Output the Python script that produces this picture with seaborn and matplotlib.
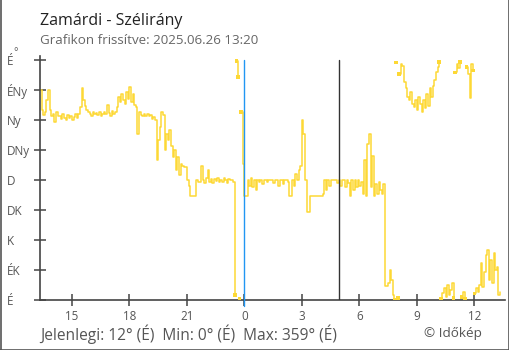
import numpy as np
import pandas as pd
import matplotlib
matplotlib.use("Agg")
import matplotlib.pyplot as plt
from matplotlib.lines import Line2D
import seaborn as sns

# Wind direction in degrees, 5-minute steps starting 2025-06-25 13:20 (one row per hour)
irany_fok = [
    315, 285, 278, 282, 300, 315, 285, 276, 280, 268, 282, 277,   # 13:20
    276, 272, 280, 274, 270, 278, 273, 277, 271, 275, 279, 273,   # 14:20
    280, 290, 318, 300, 292, 285, 282, 280, 277, 283, 279, 281,   # 15:20
    278, 282, 276, 280, 283, 279, 293, 281, 277, 284, 279, 282,   # 16:20
    290, 305, 298, 310, 300, 295, 312, 302, 320, 298, 310, 293,   # 17:20
    290, 250, 282, 278, 276, 280, 277, 279, 276, 278, 272, 275,   # 18:20
    270, 210, 240, 260, 282, 278, 225, 250, 240, 255, 232, 215,   # 19:20
    225, 195, 215, 188, 205, 201, 200, 200, 180, 172, 157, 157,   # 20:20
    157, 157, 180, 177, 178, 202, 180, 176, 183, 195, 178, 182,   # 21:20
    176, 182, 179, 184, 177, 181, 178, 183, 180, 176, 182, 180,   # 22:20
    180, 178, 8, 359, 335, 2, 283, 205, 157, 157, 180, 172,       # 23:20
    183, 170, 180, 165, 181, 178, 180, 175, 180, 180, 178, 180,   # 00:20
    180, 180, 176, 180, 180, 172, 180, 180, 175, 180, 180, 178,   # 01:20
    157, 157, 180, 172, 190, 180, 195, 202, 270, 250, 180, 132,   # 02:20
    132, 157, 157, 157, 157, 157, 157, 157, 157, 160, 180, 165,   # 03:20
    180, 172, 180, 180, 180, 180, 176, 180, 172, 180, 180, 170,   # 04:20
    180, 176, 157, 180, 165, 180, 170, 180, 172, 178, 160, 211,   # 05:20
    157, 234, 249, 170, 216, 157, 175, 160, 178, 165, 160, 174,   # 06:20
    21, 21, 25, 45, 30, 8, 0, 357, 3, 340, 355, 352,              # 07:20
    328, 318, 305, 300, 312, 295, 290, 300, 285, 305, 295, 283,   # 08:20
    300, 288, 310, 292, 318, 305, 322, 330, 342, 350, 358, 2,     # 09:20
    10, 18, 5, 22, 8, 15, 25, 3, 342, 355, 348, 358,              # 10:20
    5, 12, 2, 350, 340, 303, 355, 345, 10, 18, 12, 22,            # 11:20
    55, 20, 42, 67, 75, 30, 60, 25, 70, 45, 50, 7,                # 12:20
    12,                                                           # 13:20
]

kezdo_ora = 13 + 20 / 60          # 06.25 13:20, hours since 06.25 00:00
lepes_ora = 5 / 60
ejfel = 24.0                      # midnight marker
napkelte = 28 + 55 / 60           # 06.26 04:55

irany_fokok = [0, 45, 90, 135, 180, 225, 270, 315, 360]
irany_nevek = ["É", "ÉK", "K", "DK", "D", "DNy", "Ny", "ÉNy", "É"]
ora_tickek = [15, 18, 21, 24, 27, 30, 33, 36]
ora_cimkek = ["15", "18", "21", "0", "3", "6", "9", "12"]

SARGA = "#FDD835"
KEK = "#2196F3"
SOTET = "#444444"


def egtaj(fok):
    return irany_nevek[int(((fok % 360) + 22.5) // 45) % 8]


df = pd.DataFrame({"irany": irany_fok})
df["ora"] = kezdo_ora + df.index * lepes_ora
# break the line where the direction wraps around north
df["szakasz"] = (df["irany"].diff().abs() > 180).cumsum()

sns.set_style("white")
plt.rcParams["font.family"] = ["Open Sans", "DejaVu Sans"]

fig = plt.figure(figsize=(5.1, 3.5), dpi=100)
ax = fig.add_axes([40 / 510, 50 / 350, 465 / 510, 244.2 / 350])

sns.lineplot(data=df, x="ora", y="irany", units="szakasz", estimator=None,
             color=SARGA, lw=1.1, drawstyle="steps-post", ax=ax, legend=False)

# square caps on the ends of the wrapped pieces
sz = df["szakasz"]
eleje = (sz != sz.shift(1)) & (df.index > 0)
vege = (sz != sz.shift(-1)) & (df.index < len(df) - 1)
sns.scatterplot(data=df[eleje | vege], x="ora", y="irany", marker="s", s=7,
                color=SARGA, edgecolor="none", ax=ax, legend=False, zorder=3)

ax.axvline(ejfel, ymin=-6 / 244.2, ymax=360 / 367, color=KEK, lw=1.0,
           clip_on=False, zorder=4)
ax.axvline(napkelte, ymin=0, ymax=360 / 367, color="#333333", lw=1.0, zorder=4)

ax.set_xlim(kezdo_ora, 37.6)
ax.set_ylim(0, 367)
ax.set_yticks(irany_fokok, irany_nevek)
ax.set_xticks(ora_tickek, ora_cimkek)
ax.set_xlabel("")
ax.set_ylabel("")

for s in ["top", "right"]:
    ax.spines[s].set_visible(False)
for s in ["left", "bottom"]:
    ax.spines[s].set_color(SOTET)
    ax.spines[s].set_linewidth(1.2)

ax.tick_params(axis="y", left=True, direction="inout", length=9, width=1.1,
               color=SOTET, pad=19.3, labelsize=8.4, labelcolor="#555555")
ax.tick_params(axis="x", bottom=True, direction="inout", length=9, width=1.1,
               color=SOTET, pad=3, labelsize=8.4, labelcolor="#555555")
for lbl in ax.get_yticklabels():
    lbl.set_horizontalalignment("left")

fig.text(13.5 / 510, 1 - 55 / 350, "°", fontsize=7.5, color="#555555")

fig.text(40 / 510, 1 - 25 / 350, "Zamárdi - Szélirány", fontsize=11.5,
         color="#222222", va="baseline")
fig.text(40 / 510, 1 - 44.5 / 350, "Grafikon frissítve: 2025.06.26 13:20",
         fontsize=9.6, color="#666666", va="baseline")

jelen = irany_fok[-1]
legkisebb = min(irany_fok)
legnagyobb = max(irany_fok)
lablec = (f"Jelenlegi: {jelen}° ({egtaj(jelen)})  "
          f"Min: {legkisebb}° ({egtaj(legkisebb)})  "
          f"Max: {legnagyobb}° ({egtaj(legnagyobb)})")
fig.text(40 / 510, 1 - 339.5 / 350, lablec, fontsize=11.2, color="#555555",
         va="baseline")
fig.text(482 / 510, 1 - 337 / 350, "© Időkép", fontsize=9.7, color="#555555",
         va="baseline", ha="right")

# frame around the image
for (x0, y0, x1, y1) in [(0.5, 0, 0.5, 350), (509.5, 0, 509.5, 350), (0, 349.5, 510, 349.5)]:
    fig.add_artist(Line2D([x0 / 510, x1 / 510], [1 - y0 / 350, 1 - y1 / 350],
                          transform=fig.transFigure, color="#555555", lw=1.2))

fig.savefig("out.png", dpi=100)
